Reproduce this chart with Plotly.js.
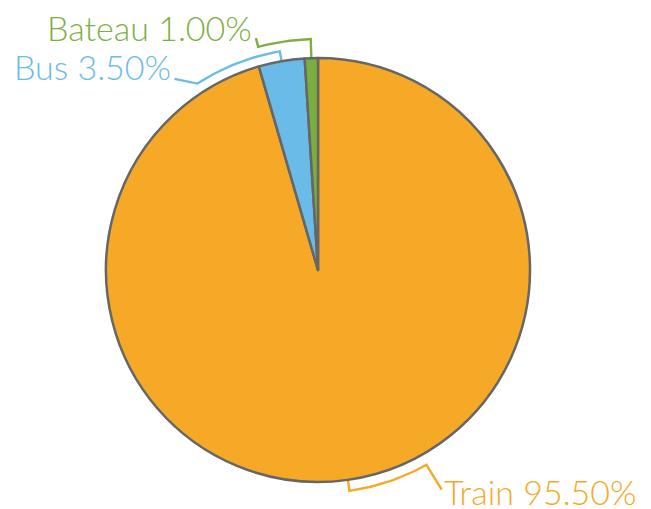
<!DOCTYPE html>
<html>
<head>
<meta charset="utf-8">
<script src="https://cdn.plot.ly/plotly-3.0.1.min.js"></script>
<style>html,body{margin:0;padding:0;background:#fff;}#chart{width:651px;height:509px;}</style>
</head>
<body>
<div id="chart"></div>
<script>
// Data
const labels = ["Train", "Bus", "Bateau"];
const values = [95.50, 3.50, 1.00];
const colors = ["#F6A926", "#6ABBE8", "#7AAE3F"];
const textColors = ["#F6A926", "#6BBCE8", "#7CB041"];

// Geometry (style)
const W = 651, H = 509;
const cx = 318, cy = 270, r = 212;
const bracket = [
  {rIn: 212, rB: 223, sweep: -21, rEnd: 252, endOff: -21.3, side: "left", dy: 2},
  {rIn: 213, rB: 222, sweep: -23, rEnd: 239, endOff: -27, side: "right", dy: -12},
  {rIn: 212, rB: 231, sweep: -13.2, rEnd: 240, endOff: -13.2, side: "right", dy: -11}
];

function pt(theta, R) {
  const t = theta * Math.PI / 180;
  return [cx + R * Math.sin(t), cy - R * Math.cos(t)];
}

// slice mid angles, clockwise from 12 o'clock
const total = values.reduce((a, b) => a + b, 0);
let acc = 0;
const mids = values.map(v => {
  const start = acc; acc += v;
  return (start + v / 2) / total * 360;
});

const traces = [];
const annotations = [];
mids.forEach((m, i) => {
  const b = bracket[i];
  const xs = [], ys = [];
  let p = pt(m, b.rIn); xs.push(p[0]); ys.push(p[1]);
  const n = 20;
  for (let k = 0; k <= n; k++) {
    p = pt(m + b.sweep * k / n, b.rB); xs.push(p[0]); ys.push(p[1]);
  }
  const e = pt(m + b.endOff, b.rEnd); xs.push(e[0]); ys.push(e[1]);
  traces.push({
    type: "scatter", mode: "lines", x: xs, y: ys, xaxis: "x", yaxis: "y",
    line: {color: textColors[i], width: 2.4}, hoverinfo: "skip", showlegend: false
  });
  annotations.push({
    x: e[0] + (b.side === "right" ? -2 : 0),
    y: e[1] + b.dy,
    xref: "x", yref: "y",
    text: labels[i] + " " + values[i].toFixed(2) + "%",
    showarrow: false,
    xanchor: b.side === "right" ? "right" : "left",
    yanchor: "middle",
    font: {family: "Lato, 'Open Sans', sans-serif", size: 34, color: textColors[i], weight: 300}
  });
});

traces.push({
  type: "pie",
  labels: labels,
  values: values,
  sort: false,
  direction: "clockwise",
  rotation: 0,
  marker: {colors: colors, line: {color: "#666666", width: 2.5}},
  textinfo: "none",
  hoverinfo: "skip",
  showlegend: false,
  domain: {x: [(cx - r) / W, (cx + r) / W], y: [(H - cy - r) / H, (H - cy + r) / H]}
});

const layout = {
  width: W, height: H,
  margin: {l: 0, r: 0, t: 0, b: 0},
  paper_bgcolor: "#ffffff", plot_bgcolor: "rgba(0,0,0,0)",
  xaxis: {range: [0, W], visible: false, fixedrange: true, domain: [0, 1]},
  yaxis: {range: [H, 0], visible: false, fixedrange: true, domain: [0, 1]},
  annotations: annotations,
  showlegend: false
};

Plotly.newPlot("chart", traces, layout, {displayModeBar: false, staticPlot: true});
</script>
</body>
</html>
